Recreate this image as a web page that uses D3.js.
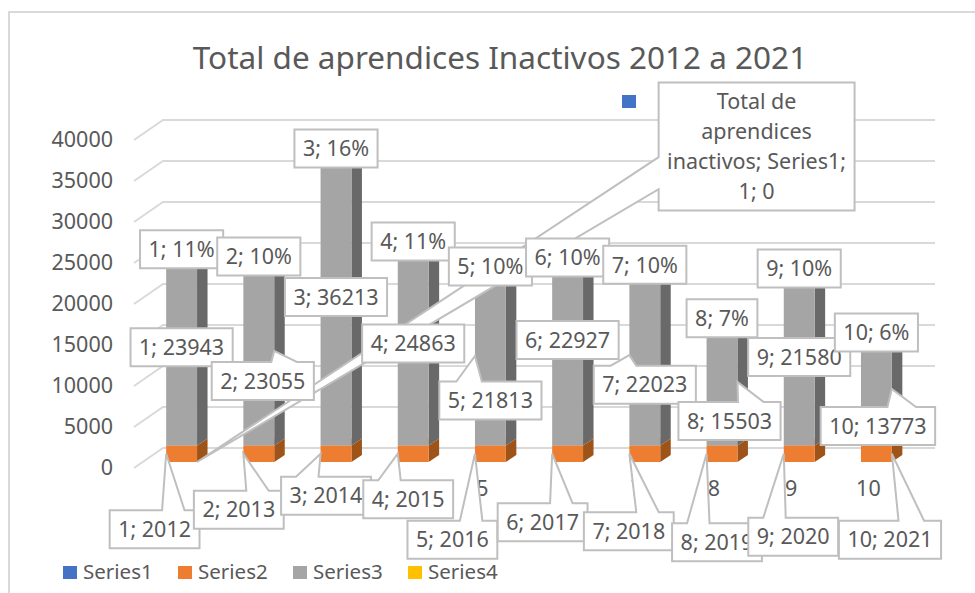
<!DOCTYPE html>
<html>
<head>
<meta charset="utf-8">
<script src="https://cdn.jsdelivr.net/npm/d3@7"></script>
<style>
  html, body { margin: 0; padding: 0; background: #fff; overflow: hidden; }
  svg { display: block; }
  text { font-family: "Noto Sans", sans-serif; fill: #595959; }
</style>
</head>
<body>
<svg id="chart" width="975" height="593"></svg>
<script>
var points = [1, 2, 3, 4, 5, 6, 7, 8, 9, 10];
var years = [2012, 2013, 2014, 2015, 2016, 2017, 2018, 2019, 2020, 2021];
var inactivos = [23943, 23055, 36213, 24863, 21813, 22927, 22023, 15503, 21580, 13773];
var percents = [11, 10, 16, 11, 10, 10, 10, 7, 10, 6];
var yTicks = [0, 5000, 10000, 15000, 20000, 25000, 30000, 35000, 40000];
var legendNames = ["Series1", "Series2", "Series3", "Series4"];
var legendColors = ["#4472c4", "#ed7d31", "#a5a5a5", "#ffc000"];
var titleText = "Total de aprendices Inactivos 2012 a 2021";

// where each callout box sits relative to the point it labels
var yearOffsets = [[-27, 75.5], [-20, 56], [-10, 42], [-5, 45.5], [-38, 86], [-25, 68.5], [-16, 77.5], [-5, 88.5], [-6, 83], [13.6, 86]];
var valueOffsets = [[0, 0], [4, 30], [0, 0], [0, 0], [0, 44.5], [0, -11.5], [0, 29.5], [7.5, 39], [0, 0], [1.5, 37]];
var seriesOneOffset = [575, -315.5];

var depth = {x: 10.5, y: -7};   // fake 3d of the columns
var wall = {x: 29, y: -20};     // fake 3d of the grid
var gridRight = 935;

var svg = d3.select("#chart");

var x = d3.scaleBand()
    .domain(points)
    .range([143, 915])
    .paddingInner(0.6)
    .paddingOuter(0.3);

var y = d3.scaleLinear()
    .domain([0, 40000])
    .range([462, 134]);

var rows = points.map(function(p, i) {
    return {point: p, Series1: 0, Series2: years[i], Series3: inactivos[i], Series4: percents[i] / 100};
});
var stacked = d3.stack().keys(legendNames)(rows);

// chart frame, runs off the right and bottom of the screenshot
svg.append("rect")
    .attr("x", 9)
    .attr("y", 12)
    .attr("width", 1100)
    .attr("height", 800)
    .attr("fill", "#fff")
    .attr("stroke", "#d9d9d9")
    .attr("stroke-width", 2);

svg.append("text")
    .attr("x", 500)
    .attr("y", 69)
    .attr("text-anchor", "middle")
    .style("font-size", "31.5px")
    .text(titleText);

var grid = svg.append("g")
    .selectAll("path")
    .data(yTicks)
    .enter().append("path")
    .attr("fill", "none")
    .attr("stroke", "#d9d9d9")
    .attr("stroke-width", 2)
    .attr("d", function(d) {
        var front = y(d) + 6;
        return "M134," + front + "L" + (134 + wall.x) + "," + (front + wall.y) + "H" + gridRight;
    });

var yAxis = svg.append("g")
    .attr("transform", "translate(113,6)")
    .call(d3.axisLeft(y).tickValues(yTicks).tickSize(0).tickPadding(0).tickFormat(d3.format("d")));
yAxis.select(".domain").remove();
yAxis.selectAll("text").style("font-size", "21.5px").style("fill", "#595959").style("font-family", '"Noto Sans", sans-serif');

var xAxis = svg.append("g")
    .attr("transform", "translate(-8,481)")
    .call(d3.axisBottom(x).tickSize(0).tickPadding(0));
xAxis.select(".domain").remove();
xAxis.selectAll("text").style("font-size", "21.5px").style("fill", "#595959").style("font-family", '"Noto Sans", sans-serif');

// columns: front face, side face and top face for each stacked series
var faceColors = {
    Series2: {front: "#ed7d31", side: "#9e5319", top: "#f2a36f"},
    Series3: {front: "#a5a5a5", side: "#696969", top: "#c0c0c0"}
};

["Series2", "Series3"].forEach(function(key) {
    var layer = stacked[legendNames.indexOf(key)];
    var colors = faceColors[key];
    var g = svg.append("g").selectAll("g")
        .data(layer)
        .enter().append("g");

    g.append("path")
        .attr("fill", colors.side)
        .attr("d", function(d) {
            var r = x(d.data.point) + x.bandwidth();
            return "M" + r + "," + y(d[0]) + "l" + depth.x + "," + depth.y + "V" + (y(d[1]) + depth.y) + "L" + r + "," + y(d[1]) + "Z";
        });

    g.append("path")
        .attr("fill", colors.top)
        .attr("d", function(d) {
            var l = x(d.data.point);
            return "M" + l + "," + y(d[1]) + "l" + depth.x + "," + depth.y + "h" + x.bandwidth() + "l" + (-depth.x) + "," + (-depth.y) + "Z";
        });

    g.append("rect")
        .attr("fill", colors.front)
        .attr("x", function(d) { return x(d.data.point); })
        .attr("y", function(d) { return y(d[1]); })
        .attr("width", x.bandwidth())
        .attr("height", function(d) { return y(d[0]) - y(d[1]); });
});

// same shape as the office "wedgeRectCallout": a box with a wedge to the tip
function calloutPath(cx, cy, w, h, tipX, tipY) {
    var l = cx - w / 2, r = cx + w / 2, t = cy - h / 2, b = cy + h / 2;
    var dx = tipX - cx, dy = tipY - cy;
    var pts = [[l, t], [r, t], [r, b], [l, b]];

    if (tipX < l || tipX > r || tipY < t || tipY > b) {
        var tip = [tipX, tipY];
        if (Math.abs(dy * w) > Math.abs(dx * h)) {
            var a = l + w * (dx > 0 ? 7 / 12 : 1 / 6);
            var c = l + w * (dx > 0 ? 5 / 6 : 5 / 12);
            if (dy < 0) pts = [[l, t], [a, t], tip, [c, t], [r, t], [r, b], [l, b]];
            else pts = [[l, t], [r, t], [r, b], [c, b], tip, [a, b], [l, b]];
        } else {
            var e = t + h * (dy > 0 ? 7 / 12 : 1 / 6);
            var f = t + h * (dy > 0 ? 5 / 6 : 5 / 12);
            if (dx < 0) pts = [[l, t], [r, t], [r, b], [l, b], [l, f], tip, [l, e]];
            else pts = [[l, t], [r, t], [r, e], tip, [r, f], [r, b], [l, b]];
        }
    }
    return "M" + pts.join("L") + "Z";
}

function addCallout(lines, ax, ay, offset, tipX, tipY) {
    var lineH = 30;
    var cx = ax + offset[0], cy = ay + offset[1];
    var g = svg.append("g");
    var box = g.append("path")
        .attr("fill", "#fff")
        .attr("stroke", "#bfbfbf")
        .attr("stroke-width", 2);
    var widest = 0;
    lines.forEach(function(line, i) {
        var t = g.append("text")
            .attr("x", cx)
            .attr("y", cy + (i - (lines.length - 1) / 2) * lineH)
            .attr("dy", "0.36em")
            .attr("text-anchor", "middle")
            .style("font-size", "21.5px")
            .text(line);
        widest = Math.max(widest, t.node().getComputedTextLength());
    });
    box.attr("d", calloutPath(cx, cy, widest + 17, lines.length * lineH + 8, tipX, tipY));
}

function barTipX(i, offset) {
    return offset[0] > 0 ? x(points[i]) + x.bandwidth() : x(points[i]);
}

function barMid(i) {
    return x(points[i]) + x.bandwidth() / 2;
}

// series 1 label, its wedge runs under all the other labels
addCallout(["Total de", "aprendices", "inactivos; Series1;", "1; 0"],
    barMid(0), y(0), seriesOneOffset, barTipX(0, seriesOneOffset), y(0));

points.forEach(function(p, i) {
    var d = stacked[1][i], mid = y((d[0] + d[1]) / 2);
    addCallout([p + "; " + years[i]], barMid(i), mid, yearOffsets[i], barTipX(i, yearOffsets[i]), mid);
});

points.forEach(function(p, i) {
    var d = stacked[2][i], mid = y((d[0] + d[1]) / 2);
    addCallout([p + "; " + inactivos[i]], barMid(i), mid, valueOffsets[i], barTipX(i, valueOffsets[i]), mid);
});

points.forEach(function(p, i) {
    var top = y(stacked[3][i][1]);
    addCallout([p + "; " + percents[i] + "%"], barMid(i), top, [0, 0], barMid(i), top);
});

// legend
var legendX = d3.scalePoint()
    .domain(legendNames)
    .range([63, 408]);

var legend = svg.append("g").selectAll("g")
    .data(legendNames)
    .enter().append("g")
    .attr("transform", function(d) { return "translate(" + legendX(d) + ",566)"; });

legend.append("rect")
    .attr("width", 14)
    .attr("height", 13)
    .attr("fill", function(d, i) { return legendColors[i]; });

legend.append("text")
    .attr("x", 20)
    .attr("y", 6)
    .attr("dy", "0.36em")
    .style("font-size", "20.5px")
    .text(function(d) { return d; });

// stray key of the hidden top legend
svg.append("rect")
    .attr("x", 622)
    .attr("y", 95)
    .attr("width", 14)
    .attr("height", 13)
    .attr("fill", legendColors[0]);
</script>
</body>
</html>
